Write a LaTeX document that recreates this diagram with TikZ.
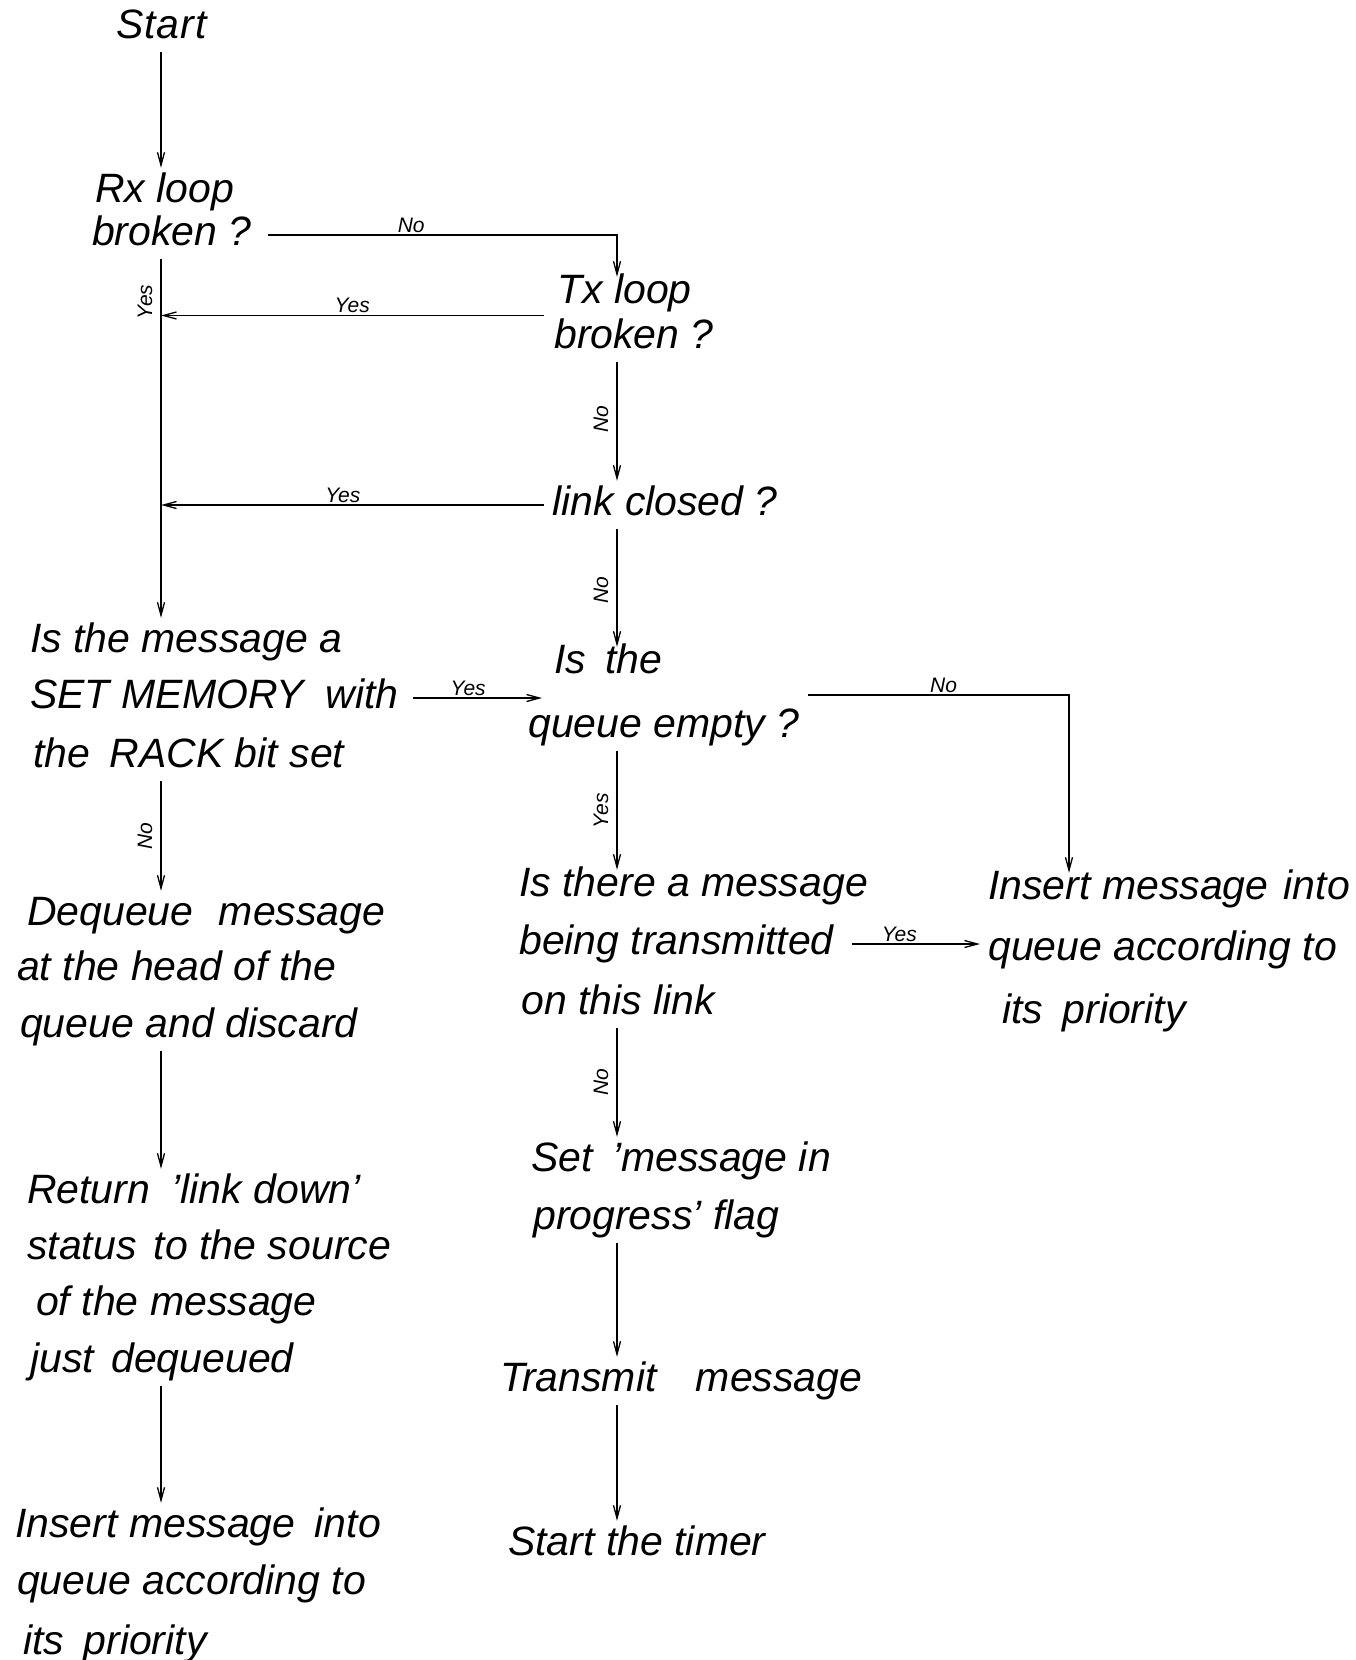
\documentclass[tikz,border=0pt]{standalone}
\usepackage{fontspec}
\setmainfont{Liberation Sans}
\usetikzlibrary{arrows.meta,calc}
\begin{document}
\begin{tikzpicture}[x=1pt,y=-1pt,
  txt/.style={anchor=west, inner sep=4pt, yshift=-5pt, text height=30pt, text depth=10pt,
              font=\fontsize{41}{48}\selectfont\itshape},
  lbl/.style={inner sep=2pt, font=\fontsize{21}{24}\selectfont\itshape},
  vlbl/.style={lbl, rotate=90, anchor=south, inner sep=8pt},
  arr/.style={draw, line width=1.3pt, -{Straight Barb[length=13pt,width=7pt]}},
]
\useasboundingbox (0,0) rectangle (1355,1660);

% column positions
\coordinate (colL) at (161,0);
\coordinate (colC) at (617,0);
\coordinate (colR) at (1069,0);

% left branch
\node[txt] (start) at (112,23) {S\hspace{1pt}t\hspace{1pt}a\hspace{1pt}r\hspace{1pt}t};
\node[txt] (rx1) at (91,187) {Rx loop};
\node[txt] (rx2) at (88,230) {broken ?};
\node[txt] (sm1) at (26,637) {Is the message a};
\node[txt] (sm2) at (26,693) {SET MEMORY\hspace{10pt} with};
\node[txt] (sm3) at (29,752) {the\hspace{8pt} RACK bit set};
\node[txt] (dq1) at (23,910) {Dequeue\hspace{14pt} message};
\node[txt] (dq2) at (13,965) {at the head of the};
\node[txt] (dq3) at (16,1022) {queue and discard};
\node[txt] (rt1) at (23,1188) {Return\hspace{10pt} 'link down'};
\node[txt] (rt2) at (23,1244) {status\hspace{6pt} to the source};
\node[txt] (rt3) at (32,1300) {of the message};
\node[txt] (rt4) at (26,1357) {just\hspace{6pt} dequeued};
\node[txt] (il1) at (11,1522) {Insert message\hspace{8pt} into};
\node[txt] (il2) at (13,1579) {queue according to};
\node[txt] (il3) at (19,1639) {its\hspace{8pt} priority};

% centre branch
\node[txt] (tx1) at (553,288) {Tx loop};
\node[txt] (tx2) at (550,333) {broken ?};
\node[txt] (lc) at (548,500) {link closed ?};
\node[txt] (qe1) at (550,658) {Is\hspace{8pt} the};
\node[txt] (qe2) at (524,722) {queue empty ?};
\node[txt] (tm1) at (515,881) {Is there a message};
\node[txt] (tm2) at (515,939) {being transmitted};
\node[txt] (tm3) at (517,999) {on this link};
\node[txt] (sp1) at (527,1156) {Set\hspace{8pt} 'message in};
\node[txt] (sp2) at (529,1214) {progress' flag};
\node[txt] (tr) at (496,1376) {Transmit\hspace{28pt} message};
\node[txt] (st) at (504,1540) {Start the timer};

% right branch
\node[txt] (ir1) at (984,884) {Insert message\hspace{4pt} into};
\node[txt] (ir2) at (984,945) {queue according to};
\node[txt] (ir3) at (998,1008) {its\hspace{8pt} priority};

% helper points between two-line questions
\coordinate (txMid) at ($(tx1.west)!.5!(tx2.west)+(-8,0)$);
\coordinate (qeMid) at ($(qe1.west)!.5!(qe2.west)$);
\coordinate (qeIn) at ($(qe1.west)+(-8,0)$);
\coordinate (qeOut) at ($(qe2.east)+(4,0)$);

% connectors, left column
\draw[arr] (start.south -| colL) -- (rx1.north -| colL);
\draw[arr] (rx2.south -| colL) -- node[vlbl, pos=.12] {Yes} (sm1.north -| colL);
\draw[arr] (sm3.south -| colL) -- node[vlbl, pos=.5] {No} (dq1.north -| colL);
\draw[arr] (dq3.south -| colL) -- (rt1.north -| colL);
\draw[arr] (rt4.south -| colL) -- (il1.north -| colL);

% connectors, centre column
\draw[arr, shorten <=12pt] (rx2.east) -- node[lbl, above, pos=.43] {No} (rx2.east -| colC)
           -- ([yshift=-8pt]tx1.north -| colC);
\draw[arr] (txMid) -- node[lbl, above, pos=.5] {Yes} (txMid -| colL);
\draw[arr] (tx2.south -| colC) -- node[vlbl, pos=.48] {No} (lc.north -| colC);
\draw[arr, shorten <=4pt] (lc.west) -- node[lbl, above, pos=.53] {Yes} (lc.west -| colL);
\draw[arr] (lc.south -| colC) -- node[vlbl, pos=.52] {No} ([yshift=-8pt]qe1.north -| colC);
\draw[arr, shorten <=10pt] (sm2.east) -- node[lbl, above, pos=.47] {Yes} (sm2.east -| qeIn);
\draw[arr] (qe2.south -| colC) -- node[vlbl, pos=.5] {Yes} ([yshift=-8pt]tm1.north -| colC);
\draw[arr] (tm3.south -| colC) -- node[vlbl, pos=.5] {No} (sp1.north -| colC);
\draw[arr] (sp2.south -| colC) -- (tr.north -| colC);
\draw[arr] (tr.south -| colC) -- (st.north -| colC);

% connectors to the right column
\draw[arr] (qeOut |- qeMid) -- node[lbl, above, pos=.52] {No} (qeMid -| colR)
           -- ([yshift=-8pt]ir1.north -| colR);
\draw[arr, shorten <=14pt, shorten >=4pt] (tm2.east) -- node[lbl, above, pos=.42] {Yes} (tm2.east -| ir2.west);
\end{tikzpicture}
\end{document}
